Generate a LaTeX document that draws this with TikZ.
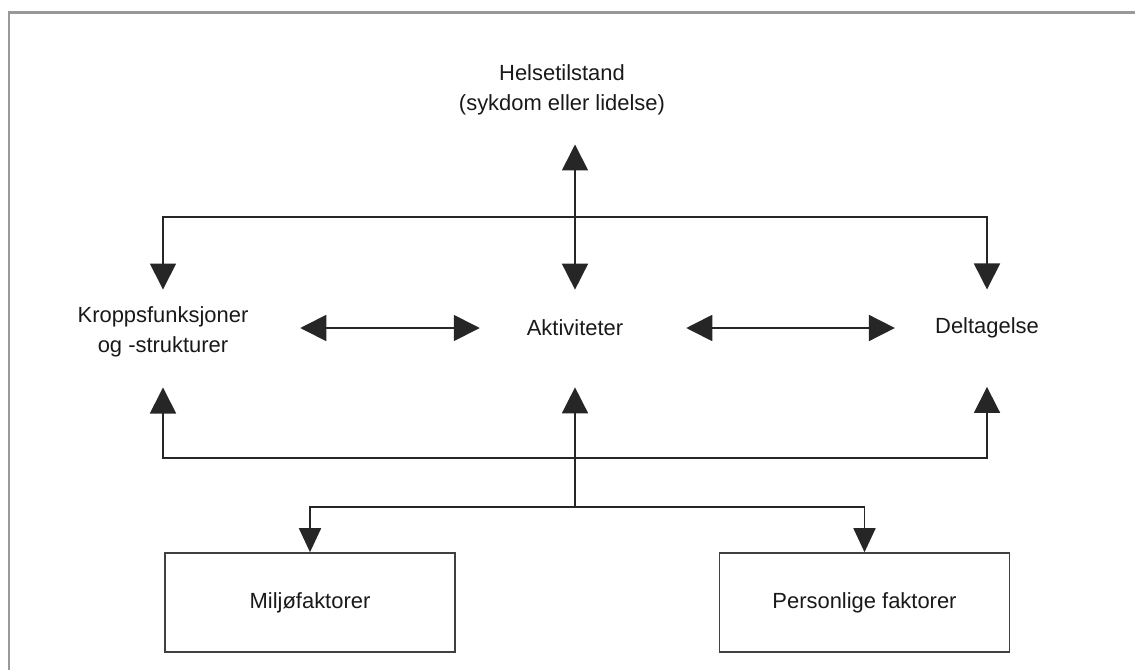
\documentclass[tikz,border=0pt]{standalone}
\usepackage{fontspec}
\setmainfont{Liberation Sans}
\usetikzlibrary{calc,positioning,arrows.meta}

\tikzset{
  conn/.style={line width=1.2pt, draw=black!85},
  tip/.style={conn, -{Triangle[length=0.65cm, width=0.65cm]}},
  tipsmall/.style={conn, -{Triangle[length=0.6cm, width=0.55cm]}},
  dbl/.style={conn, {Triangle[length=0.65cm, width=0.65cm]}-{Triangle[length=0.65cm, width=0.65cm]}},
  lbl/.style={inner sep=0pt, align=center, text=black!90, font=\fontsize{15.6}{21.3}\selectfont},
  factor/.style={lbl, draw=black!75, line width=1.1pt, minimum width=7.25cm, minimum height=2.475cm},
}

\begin{document}
\begin{tikzpicture}[x=0.025cm, y=-0.025cm]
    \useasboundingbox (0,0) rectangle (1135,670);

    % Frame, only top and left edge inside the picture
    \draw[black!40, line width=2pt] (1135,12.5) -- (9,12.5) -- (9,670);

    % Components
    \node[lbl] (helse) at (562,90) {Helsetilstand\\(sykdom eller lidelse)};
    \node[lbl] (kropp) at (163,332) {Kroppsfunksjoner\\og -strukturer};
    \node[lbl] (akt) at (575,328) {Aktiviteter};
    \node[lbl] (delt) at (987,328) {Deltagelse};

    % Contextual factors
    \node[factor] (milj) at (310,602.5) {Miljøfaktorer};
    \node[factor] (pers) at (864.5,602.5) {Personlige faktorer};

    % Junctions
    \coordinate (topjoin) at (575,217);
    \coordinate (botjoin) at (575,458);
    \coordinate (branch) at (575,507);

    % Health condition to the three components
    \draw[dbl, shorten <=0.725cm, shorten >=0.75cm] (helse.south -| akt.north) -- (akt.north);
    \draw[tip, shorten >=0.425cm] (topjoin) -| (kropp.north);
    \draw[tip, shorten >=0.7cm] (topjoin) -| (delt.north);

    % Between the components
    \draw[dbl, shorten <=1.29cm, shorten >=1.17cm] (akt.west -| kropp.east) -- (akt.west);
    \draw[dbl, shorten <=1.57cm, shorten >=1.0cm] (akt.east) -- (delt.west);

    % Factors back up to the components
    \draw[tip, shorten >=0.75cm] (botjoin) -| (kropp.south);
    \draw[tip, shorten >=1.21cm] (botjoin) -| (delt.south);
    \draw[tip, shorten >=1.275cm] (branch) -- (akt.south);

    % Branch down to the factor boxes
    \foreach \fac in {milj, pers}
        \draw[tipsmall] (branch) -| (\fac.north);
\end{tikzpicture}
\end{document}
